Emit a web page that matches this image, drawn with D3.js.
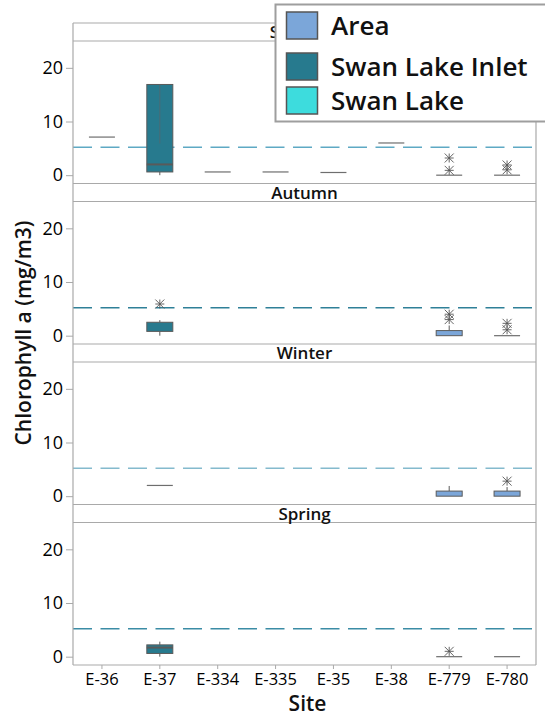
<!DOCTYPE html>
<html>
<head>
<meta charset="utf-8">
<script src="https://cdn.jsdelivr.net/npm/d3@7"></script>
<style>
  html, body { margin: 0; padding: 0; background: #fff; }
  svg { display: block; font-family: "Open Sans", "Noto Sans", sans-serif; }
</style>
</head>
<body>
<svg id="chart" width="545" height="717"></svg>
<script>
// Sites along the x axis and the seasonal panels stacked top to bottom
const sites = ["E-36", "E-37", "E-334", "E-335", "E-35", "E-38", "E-779", "E-780"];
const seasons = ["Summer", "Autumn", "Winter", "Spring"];
const groups = ["Area", "Swan Lake Inlet", "Swan Lake"];
const groupColors = ["#7ba6d9", "#277a8e", "#3ddcdd"];
const yTicks = [0, 10, 20];
const guideValue = 5.2; // dashed reference level

// Box summaries: [site, group, low whisker, Q1, median, Q3, high whisker, outliers]
const summerBoxes = [
  ["E-36", "Swan Lake Inlet", 7.1, 7.1, 7.1, 7.1, 7.1, []],
  ["E-37", "Swan Lake Inlet", 0, 0.6, 2.0, 16.9, 16.9, []],
  ["E-334", "Swan Lake Inlet", 0.6, 0.6, 0.6, 0.6, 0.6, []],
  ["E-335", "Swan Lake Inlet", 0.6, 0.6, 0.6, 0.6, 0.6, []],
  ["E-35", "Swan Lake Inlet", 0.5, 0.5, 0.5, 0.5, 0.5, []],
  ["E-38", "Swan Lake Inlet", 6.0, 6.0, 6.0, 6.0, 6.0, []],
  ["E-779", "Area", 0, 0, 0, 0, 0, [3.2, 0.9]],
  ["E-780", "Area", 0, 0, 0, 0, 0, [1.9, 1.0]]
];
const autumnBoxes = [
  ["E-37", "Swan Lake Inlet", 0, 0.8, 0.8, 2.5, 2.9, [5.9]],
  ["E-779", "Area", 0, 0, 0, 0.95, 1.9, [4.0, 3.0]],
  ["E-780", "Area", 0, 0, 0, 0, 0, [2.3, 1.1]]
];
const winterBoxes = [
  ["E-37", "Swan Lake Inlet", 2.0, 2.0, 2.0, 2.0, 2.0, []],
  ["E-779", "Area", 0, 0, 0, 0.95, 1.9, []],
  ["E-780", "Area", 0, 0, 0, 0.95, 1.7, [2.8]]
];
const springBoxes = [
  ["E-37", "Swan Lake Inlet", 0, 0.6, 1.7, 2.2, 2.8, []],
  ["E-779", "Area", 0, 0, 0, 0, 0, [1.0]],
  ["E-780", "Area", 0, 0, 0, 0, 0, []]
];
const seasonBoxes = [summerBoxes, autumnBoxes, winterBoxes, springBoxes];
// Interior connector inside the summer E-37 box: [site, from Q3 down to]
const summerConnector = ["E-37", 5.9];
const guideColors = ["#5ea9c4", "#2f8098", "#84bacd", "#3b8ca5"];

const svg = d3.select("#chart");
const left = 73, right = 536;
const top0 = 23, panelStep = 160.5, stripH = 18;
const frameColor = "#a9a9a9", markColor = "#5a5a5a";

const x = d3.scaleBand().domain(sites).range([left, right]).padding(0);
const boxW = 26;
const groupFill = d3.scaleOrdinal().domain(groups).range(groupColors);

// outlier glyph: an X crossed by horizontal and vertical strokes
function starPath(r) {
  const p = d3.path();
  p.moveTo(-r, -r); p.lineTo(r, r);
  p.moveTo(-r, r); p.lineTo(r, -r);
  p.moveTo(-r, 0); p.lineTo(r, 0);
  p.moveTo(0, -r); p.lineTo(0, r);
  return p.toString();
}

seasons.forEach((season, i) => {
  const stripTop = top0 + i * panelStep;
  const plotTop = stripTop + stripH;
  const plotBottom = stripTop + panelStep;
  const y = d3.scaleLinear().domain([-1.55, 25]).range([plotBottom, plotTop]);
  const g = svg.append("g");

  // strip header
  g.append("line").attr("x1", left).attr("x2", right).attr("y1", stripTop).attr("y2", stripTop)
    .attr("stroke", frameColor).attr("stroke-width", 1.2);
  g.append("line").attr("x1", left).attr("x2", right).attr("y1", plotTop).attr("y2", plotTop)
    .attr("stroke", frameColor).attr("stroke-width", 1.2);
  g.append("text").attr("x", (left + right) / 2).attr("y", stripTop + 15)
    .attr("text-anchor", "middle").attr("font-size", 17).attr("font-weight", 600)
    .attr("fill", "#111").text(season);

  // y axis
  const yAxis = d3.axisLeft(y).tickValues(yTicks).tickSize(7).tickPadding(3);
  const ya = g.append("g").attr("transform", `translate(${left},0)`).call(yAxis);
  ya.select(".domain").remove();
  ya.selectAll(".tick line").attr("stroke", frameColor);
  ya.selectAll(".tick text").attr("font-size", 18).attr("font-weight", 500).attr("fill", "#000")
    .attr("font-family", "'Open Sans', sans-serif");

  // dashed reference level
  g.append("line").attr("x1", left).attr("x2", right)
    .attr("y1", y(guideValue)).attr("y2", y(guideValue))
    .attr("stroke", guideColors[i]).attr("stroke-width", 1.3)
    .attr("stroke-dasharray", "19,8.5");

  // boxes
  seasonBoxes[i].forEach(([site, grp, lo, q1, med, q3, hi, outs]) => {
    const cx = x(site) + x.bandwidth() / 2;
    const b = g.append("g");
    if (q3 > q1) {
      b.append("line").attr("x1", cx).attr("x2", cx).attr("y1", y(q3)).attr("y2", y(hi))
        .attr("stroke", markColor);
      b.append("line").attr("x1", cx).attr("x2", cx).attr("y1", y(q1)).attr("y2", y(lo))
        .attr("stroke", markColor);
      b.append("rect").attr("x", cx - boxW / 2).attr("width", boxW)
        .attr("y", y(q3)).attr("height", y(q1) - y(q3))
        .attr("fill", groupFill(grp)).attr("stroke", markColor).attr("stroke-width", 1);
      if (med > q1 && med < q3) {
        b.append("line").attr("x1", cx - boxW / 2).attr("x2", cx + boxW / 2)
          .attr("y1", y(med)).attr("y2", y(med)).attr("stroke", markColor).attr("stroke-width", 2);
      }
    } else {
      b.append("line").attr("x1", cx - boxW / 2).attr("x2", cx + boxW / 2)
        .attr("y1", y(med)).attr("y2", y(med)).attr("stroke", "#6e6e6e").attr("stroke-width", 1.2);
      if (hi > q3) {
        b.append("line").attr("x1", cx).attr("x2", cx).attr("y1", y(q3)).attr("y2", y(hi))
          .attr("stroke", markColor);
      }
    }
    if (i === 0 && site === summerConnector[0]) {
      b.append("line").attr("x1", cx).attr("x2", cx)
        .attr("y1", y(q3)).attr("y2", y(summerConnector[1]))
        .attr("stroke", "#4d6b75").attr("stroke-width", 1);
    }
    outs.forEach(v => {
      b.append("path").attr("d", starPath(4.5))
        .attr("transform", `translate(${cx},${y(v)})`)
        .attr("fill", "none").attr("stroke", "#555").attr("stroke-width", 0.9);
    });
  });
});

const frameBottom = top0 + 4 * panelStep;
// outer frame sides and bottom
svg.append("line").attr("x1", left).attr("x2", left).attr("y1", top0).attr("y2", frameBottom)
  .attr("stroke", frameColor).attr("stroke-width", 1.2);
svg.append("line").attr("x1", right).attr("x2", right).attr("y1", top0).attr("y2", frameBottom)
  .attr("stroke", frameColor).attr("stroke-width", 1.2);
svg.append("line").attr("x1", left).attr("x2", right).attr("y1", frameBottom).attr("y2", frameBottom)
  .attr("stroke", frameColor).attr("stroke-width", 1.2);

// x axis
const xa = svg.append("g").attr("transform", `translate(0,${frameBottom})`)
  .call(d3.axisBottom(x).tickSize(4).tickPadding(4));
xa.select(".domain").remove();
xa.selectAll(".tick line").attr("stroke", frameColor);
xa.selectAll(".tick text").attr("font-size", 16.5).attr("font-weight", 500).attr("fill", "#000")
  .attr("font-family", "'Open Sans', sans-serif");

// axis titles
svg.append("text").attr("x", (left + right) / 2 + 3).attr("y", 711)
  .attr("text-anchor", "middle").attr("font-size", 21).attr("font-weight", 600)
  .attr("fill", "#111").text("Site");
svg.append("text").attr("transform", "translate(31,333) rotate(-90)")
  .attr("text-anchor", "middle").attr("font-size", 21).attr("font-weight", 600)
  .attr("fill", "#111").text("Chlorophyll a (mg/m3)");

// legend
const lg = svg.append("g");
lg.append("rect").attr("x", 275.5).attr("y", 4.5).attr("width", 290).attr("height", 117)
  .attr("fill", "#fff").attr("stroke", "#9e9e9e").attr("stroke-width", 2);
const legendRows = [12, 53, 87];
groups.forEach((grp, k) => {
  lg.append("rect").attr("x", 286.5).attr("y", legendRows[k]).attr("width", 31).attr("height", 27)
    .attr("fill", groupColors[k]).attr("stroke", "#555").attr("stroke-width", 1.5);
  lg.append("text").attr("x", 331).attr("y", legendRows[k] + 23)
    .attr("font-size", 26).attr("font-weight", 600).attr("fill", "#111").text(grp);
});
</script>
</body>
</html>
